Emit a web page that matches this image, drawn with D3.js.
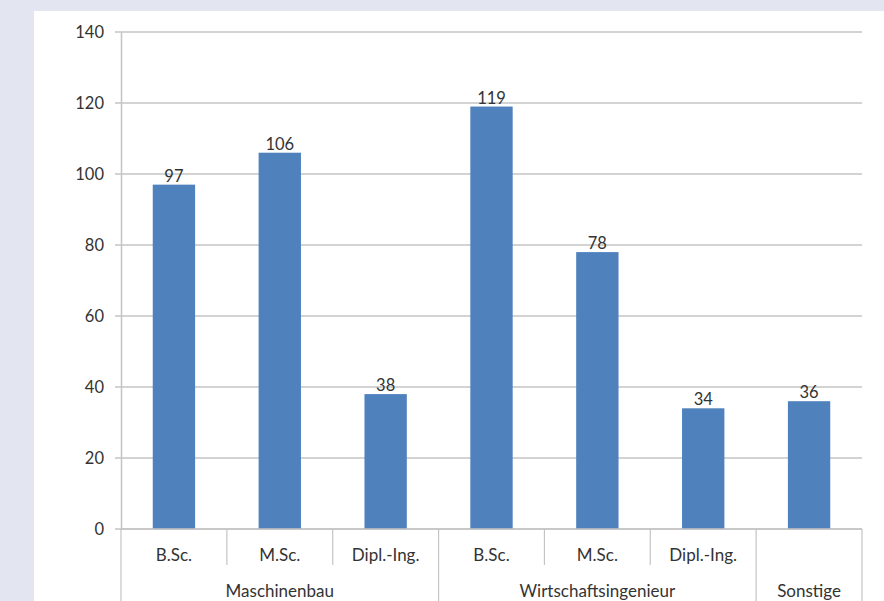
<!DOCTYPE html>
<html>
<head>
<meta charset="utf-8">
<script src="https://cdn.jsdelivr.net/npm/d3@7"></script>
<style>
  html, body { margin: 0; padding: 0; background: #e3e6f0; }
  svg { display: block; }
</style>
</head>
<body>
<svg id="chart" width="884" height="601"></svg>
<script>
// Degree programmes (inner level) and their faculties (outer level)
const degrees = ["B.Sc.", "M.Sc.", "Dipl.-Ing.", "B.Sc.", "M.Sc.", "Dipl.-Ing.", ""];
const groups = ["Maschinenbau", "Maschinenbau", "Maschinenbau",
                "Wirtschaftsingenieur", "Wirtschaftsingenieur", "Wirtschaftsingenieur",
                "Sonstige"];
const counts = [97, 106, 38, 119, 78, 34, 36];
const yTicks = [0, 20, 40, 60, 80, 100, 120, 140];

const svg = d3.select("#chart");
const W = 884, H = 601;
const margin = { left: 121, right: 22, top: 32, bottom: 72 };
const plotRight = W - margin.right;
const plotBottom = H - margin.bottom;

// White panel
svg.append("rect")
  .attr("x", 34).attr("y", 11)
  .attr("width", W - 34).attr("height", H - 11)
  .attr("fill", "#ffffff");

const idx = counts.map((_, i) => i);
const x = d3.scaleBand().domain(idx).range([margin.left, plotRight]).paddingInner(0).paddingOuter(0);
const y = d3.scaleLinear().domain([0, 140]).range([plotBottom, margin.top]);

const font = "Lato, 'Open Sans', 'Liberation Sans', sans-serif";
const gridColor = "#c4c4c4";
const textColor = "#333333";
const numSize = 16.5;
const catSize = 17;

// Horizontal gridlines
svg.append("g")
  .selectAll("line")
  .data(yTicks)
  .join("line")
  .attr("x1", margin.left - 6).attr("x2", plotRight)
  .attr("y1", d => y(d)).attr("y2", d => y(d))
  .attr("stroke", gridColor).attr("stroke-width", 1.5);

// Value axis
const yAxis = d3.axisLeft(y).tickValues(yTicks).tickSize(0).tickPadding(17);
const gy = svg.append("g").attr("transform", `translate(${margin.left},0)`).call(yAxis);
gy.select(".domain").attr("stroke", gridColor).attr("stroke-width", 1.5);
gy.selectAll("text")
  .attr("font-family", font).attr("font-size", numSize)
  .attr("fill", textColor);

// Bars
svg.append("g")
  .selectAll("rect")
  .data(idx)
  .join("rect")
  .attr("x", i => x(i) + x.bandwidth() * 0.3)
  .attr("width", x.bandwidth() * 0.4)
  .attr("y", i => y(counts[i]))
  .attr("height", i => y(0) - y(counts[i]))
  .attr("fill", "#4f81bd");

// Value labels
svg.append("g")
  .selectAll("text")
  .data(idx)
  .join("text")
  .attr("x", i => x(i) + x.bandwidth() / 2)
  .attr("y", i => y(counts[i]) - 3)
  .attr("text-anchor", "middle")
  .attr("font-family", font).attr("font-size", numSize)
  .attr("fill", textColor)
  .text(i => counts[i]);

// Category axis: baseline
svg.append("line")
  .attr("x1", margin.left).attr("x2", plotRight)
  .attr("y1", y(0)).attr("y2", y(0))
  .attr("stroke", gridColor).attr("stroke-width", 1.5);

// Inner separators between degrees (short)
const innerY2 = y(0) + 36;
const groupNames = [...new Set(groups)];
const groupRanges = groupNames.map(g => {
  const members = idx.filter(i => groups[i] === g);
  return { name: g, start: x(members[0]), end: x(members[members.length - 1]) + x.bandwidth() };
});

const innerBounds = idx.slice(1).filter(i => groups[i] === groups[i - 1]).map(i => x(i));
svg.append("g")
  .selectAll("line")
  .data(innerBounds)
  .join("line")
  .attr("x1", d => d).attr("x2", d => d)
  .attr("y1", y(0)).attr("y2", innerY2)
  .attr("stroke", gridColor).attr("stroke-width", 1.2);

// Group separators (full height)
const groupBounds = [margin.left, ...groupRanges.map(g => g.end)];
svg.append("g")
  .selectAll("line")
  .data(groupBounds)
  .join("line")
  .attr("x1", d => d).attr("x2", d => d)
  .attr("y1", y(0)).attr("y2", H)
  .attr("stroke", gridColor).attr("stroke-width", 1.2);

// Degree labels
svg.append("g")
  .selectAll("text")
  .data(idx)
  .join("text")
  .attr("x", i => x(i) + x.bandwidth() / 2)
  .attr("y", y(0) + 32)
  .attr("text-anchor", "middle")
  .attr("font-family", font).attr("font-size", catSize)
  .attr("fill", textColor)
  .text(i => degrees[i]);

// Group labels
svg.append("g")
  .selectAll("text")
  .data(groupRanges)
  .join("text")
  .attr("x", d => (d.start + d.end) / 2)
  .attr("y", y(0) + 68)
  .attr("text-anchor", "middle")
  .attr("font-family", font).attr("font-size", catSize)
  .attr("fill", textColor)
  .text(d => d.name);
</script>
</body>
</html>
